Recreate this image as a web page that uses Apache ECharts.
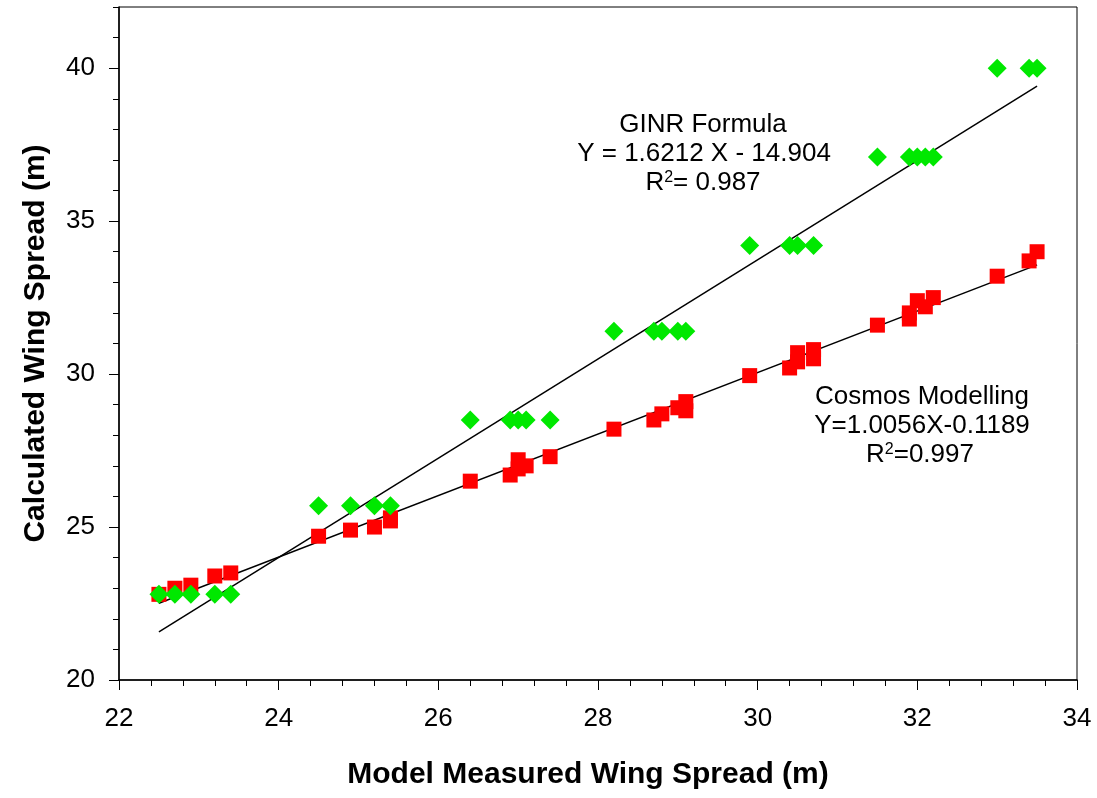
<!DOCTYPE html>
<html>
<head>
<meta charset="UTF-8">
<title>Wing Spread</title>
<script src="https://cdn.jsdelivr.net/npm/echarts@6/dist/echarts.min.js"></script>
<style>
  html, body { margin: 0; padding: 0; background: #fff; }
  #main { width: 1097px; height: 798px; }
</style>
</head>
<body>
<div id="main"></div>
<script type="text/javascript">
// GINR formula points (green diamonds)
var ginrX = [22.5, 22.7, 22.9, 23.2, 23.4, 24.5, 24.9, 25.2, 25.4, 26.4, 26.9, 27.0, 27.1, 27.4,
             28.2, 28.7, 28.8, 29.0, 29.1, 29.9, 30.4, 30.5, 30.7, 31.5, 31.9, 32.0, 32.1, 32.2,
             33.0, 33.4, 33.5];
var ginrY = [22.8, 22.8, 22.8, 22.8, 22.8, 25.7, 25.7, 25.7, 25.7, 28.5, 28.5, 28.5, 28.5, 28.5,
             31.4, 31.4, 31.4, 31.4, 31.4, 34.2, 34.2, 34.2, 34.2, 37.1, 37.1, 37.1, 37.1, 37.1,
             40.0, 40.0, 40.0];
// Cosmos modelling points (red squares)
var cosmosX = [22.5, 22.7, 22.9, 23.2, 23.4, 24.5, 24.9, 25.2, 25.4, 25.4, 26.4, 26.9, 27.0, 27.0,
               27.1, 27.4, 28.2, 28.7, 28.8, 29.0, 29.1, 29.1, 29.9, 30.4, 30.5, 30.5, 30.7, 30.7,
               31.5, 31.9, 31.9, 32.0, 32.1, 32.2, 33.0, 33.4, 33.5];
var cosmosY = [22.8, 23.0, 23.1, 23.4, 23.5, 24.7, 24.9, 25.0, 25.2, 25.3, 26.5, 26.7, 26.9, 27.2,
               27.0, 27.3, 28.2, 28.5, 28.7, 28.9, 28.8, 29.1, 29.95, 30.2, 30.4, 30.7, 30.5, 30.8,
               31.6, 31.8, 32.0, 32.4, 32.2, 32.5, 33.2, 33.7, 34.0];
// fitted lines, end points
var ginrFit = [[22.5, 21.57], [33.5, 39.41]];
var cosmosFit = [[22.5, 22.51], [33.5, 33.57]];
// ticks
var yTicks = [20, 25, 30, 35, 40];

function pairs(xs, ys) {
    var out = [];
    for (var i = 0; i < xs.length; i++) out.push([xs[i], ys[i]]);
    return out;
}

var font = 'Liberation Sans, Arial, sans-serif';
var myChart = echarts.init(document.getElementById('main'));
var option = {
    backgroundColor: '#fff',
    animation: false,
    grid: { left: 119, right: 20, top: 7, bottom: 118, show: true, borderColor: '#000', borderWidth: 1 },
    xAxis: {
        type: 'value', min: 22, max: 34, interval: 2,
        name: 'Model Measured Wing Spread (m)', nameLocation: 'middle', nameGap: 80,
        nameTextStyle: { fontFamily: font, fontSize: 30, fontWeight: 'bold', color: '#000', padding: [0, 20, 0, 0] },
        axisLine: { lineStyle: { color: '#000', width: 1.5 } },
        axisTick: { inside: false, length: 10, lineStyle: { color: '#000', width: 1 } },
        minorTick: { show: true, splitNumber: 5, length: 6, lineStyle: { color: '#000', width: 1 } },
        axisLabel: { margin: 26, fontFamily: font, fontSize: 26, color: '#000' },
        splitLine: { show: false }
    },
    yAxis: [{
        type: 'value', min: 20, max: 42, interval: 1,
        name: 'Calculated Wing Spread (m)', nameLocation: 'middle', nameGap: 68,
        nameTextStyle: { fontFamily: font, fontSize: 30, fontWeight: 'bold', color: '#000' },
        axisLine: { lineStyle: { color: '#000', width: 1.5 } },
        axisTick: { inside: false, length: 6, lineStyle: { color: '#000', width: 1 } },
        axisLabel: {
            margin: 24, fontFamily: font, fontSize: 26, color: '#000',
            formatter: function (v) { return yTicks.indexOf(v) >= 0 ? String(v) : ''; }
        },
        splitLine: { show: false }
    }, {
        type: 'value', min: 20, max: 42, position: 'left',
        axisLine: { show: false },
        axisTick: { show: true, inside: false, length: 10, customValues: yTicks, lineStyle: { color: '#000', width: 1 } },
        axisLabel: { show: false },
        splitLine: { show: false }
    }],
    series: [
        {
            name: 'GINR fit', type: 'line', data: ginrFit, symbol: 'none', z: 1,
            lineStyle: { color: '#000', width: 1.5 }
        },
        {
            name: 'Cosmos fit', type: 'line', data: cosmosFit, symbol: 'none', z: 1,
            lineStyle: { color: '#000', width: 1.5 }
        },
        {
            name: 'Cosmos Modelling', type: 'scatter', data: pairs(cosmosX, cosmosY), z: 2,
            symbol: 'rect', symbolSize: 15, itemStyle: { color: '#ff0000', opacity: 1 }
        },
        {
            name: 'GINR Formula', type: 'scatter', data: pairs(ginrX, ginrY), z: 3,
            symbol: 'diamond', symbolSize: 19, itemStyle: { color: '#00e800', opacity: 1 }
        }
    ],
    graphic: [
        { type: 'text', x: 703, y: 125, style: { text: 'GINR Formula', font: '26px ' + font, fill: '#000', textAlign: 'center', textVerticalAlign: 'middle' } },
        { type: 'text', x: 704, y: 154, style: { text: 'Y = 1.6212 X - 14.904', font: '26px ' + font, fill: '#000', textAlign: 'center', textVerticalAlign: 'middle' } },
        { type: 'text', x: 703, y: 183, style: {
            text: 'R{sup|2}= 0.987', fontSize: 26, fontFamily: font, fill: '#000', textAlign: 'center', textVerticalAlign: 'middle',
            rich: { sup: { fontSize: 16, fontFamily: font, verticalAlign: 'top', padding: [0, 0, 10, 0] } } } },
        { type: 'text', x: 922, y: 397, style: { text: 'Cosmos Modelling', font: '26px ' + font, fill: '#000', textAlign: 'center', textVerticalAlign: 'middle' } },
        { type: 'text', x: 922, y: 426, style: { text: 'Y=1.0056X-0.1189', font: '26px ' + font, fill: '#000', textAlign: 'center', textVerticalAlign: 'middle' } },
        { type: 'text', x: 920, y: 455, style: {
            text: 'R{sup|2}=0.997', fontSize: 26, fontFamily: font, fill: '#000', textAlign: 'center', textVerticalAlign: 'middle',
            rich: { sup: { fontSize: 16, fontFamily: font, verticalAlign: 'top', padding: [0, 0, 10, 0] } } } }
    ]
};
myChart.setOption(option);
</script>
</body>
</html>
